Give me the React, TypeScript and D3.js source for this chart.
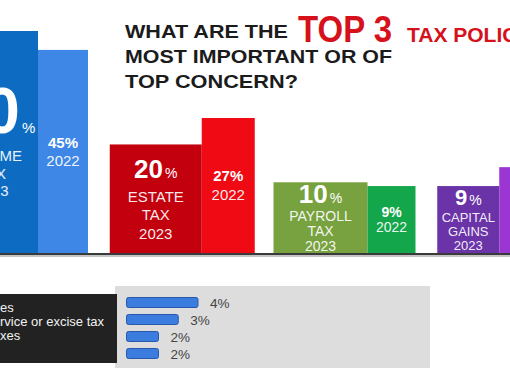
import React from "react";
import * as d3 from "d3";

// ---------- data ----------
const categories = ["INCOME TAX", "ESTATE TAX", "PAYROLL TAX", "CAPITAL GAINS"];
const categoryLines = [
  ["INCOME", "TAX"],
  ["ESTATE", "TAX"],
  ["PAYROLL", "TAX"],
  ["CAPITAL", "GAINS"],
];
const values2023 = [50, 20, 10, 9];
const values2022 = [45, 27, 9, 14];
const year2023 = "2023";
const year2022 = "2022";

const otherLabels = ["es", "rvice or excise tax", "xes", ""];
const otherValues = [4, 3, 2, 2];

// ---------- layout / styles ----------
const W = 510;
const H = 382;
const BASE = 253;
const FONT = "'Liberation Sans', Arial, Helvetica, sans-serif";

const colors2023 = ["#0d6cc2", "#c3000d", "#78a23f", "#6a34a8"];
const colors2022 = ["#3f87e6", "#ef0a14", "#14a64b", "#9b36d2"];
const width2023 = d3.scaleOrdinal<string, number>().domain(categories).range([92, 92, 94, 62]);
const width2022 = d3.scaleOrdinal<string, number>().domain(categories).range([50, 53, 48, 50]);
const bigSize = [64, 26, 26, 22];
const pctSize = [15, 14, 14, 14];
const lineSize = [15, 15, 14, 13];
const gap1 = [28, 24, 18, 17];
const lineH = [17.5, 18.5, 15, 14];
const size22 = [15, 15, 14, 14];
const lineH22 = [18, 19, 15, 15];

export default function App() {
  const xg = d3
    .scaleBand<string>()
    .domain(categories)
    .range([-54, -54 + 4 * 163.75])
    .paddingInner(0)
    .paddingOuter(0);
  const y = d3.scaleLinear().domain([-8.7, 50]).range([BASE, 31]);

  const sx = d3.scaleLinear().domain([0, 4]).range([119, 198]);
  const sy = d3
    .scaleBand<number>()
    .domain(otherValues.map((_, i) => i))
    .range([294, 362])
    .paddingInner(0.41)
    .paddingOuter(0.205);

  const bars = categories.map((c, i) => {
    const x0 = xg(c) as number;
    const w23 = width2023(c);
    const w22 = width2022(c);
    return { c, i, x0, w23, w22, x22: x0 + w23 };
  });

  return (
    <svg
      width={W}
      height={H}
      style={{ position: "absolute", left: 0, top: 0, background: "#fff" }}
      fontFamily={FONT}
    >
      <rect x={0} y={0} width={W} height={H} fill="#fff" />

      {/* Title */}
      <text x={125} y={38} fontSize={19} fontWeight="bold" fill="#1b1b1b" textLength={163} lengthAdjust="spacingAndGlyphs">
        WHAT ARE THE
      </text>
      <text x={298} y={42} fontSize={37} fontWeight="bold" fill="#d5121b" textLength={94} lengthAdjust="spacingAndGlyphs">
        TOP 3
      </text>
      <text x={407} y={42} fontSize={21} fontWeight="bold" fill="#d5121b">
        TAX POLICIES
      </text>
      <text x={125} y={63} fontSize={19} fontWeight="bold" fill="#1b1b1b" textLength={267} lengthAdjust="spacingAndGlyphs">
        MOST IMPORTANT OR OF
      </text>
      <text x={125} y={88} fontSize={19} fontWeight="bold" fill="#1b1b1b" textLength={173} lengthAdjust="spacingAndGlyphs">
        TOP CONCERN?
      </text>

      {/* Bars */}
      {bars.map(({ c, i, x0, w23, w22, x22 }) => {
        const t23 = y(values2023[i]);
        const t22 = y(values2022[i]);
        // 2023 label block, vertically centred in the bar
        const cap = bigSize[i] * 0.716;
        const blockH = cap + gap1[i] + 2 * lineH[i];
        const mid23 = (t23 + BASE) / 2;
        const b0 = mid23 - blockH / 2 + cap;
        const cx23 = x0 + w23 / 2;
        // 2022 label block
        const cap22 = size22[i] * 0.716;
        const blockH22 = cap22 + lineH22[i];
        const mid22 = (t22 + BASE) / 2;
        const b22 = mid22 - blockH22 / 2 + cap22;
        const cx22 = x22 + w22 / 2;
        return (
          <g key={c}>
            <rect x={x0} y={t23} width={w23} height={BASE - t23} fill={colors2023[i]} />
            <rect x={x22} y={t22} width={w22} height={BASE - t22} fill={colors2022[i]} />
            <text x={cx23} y={b0} textAnchor="middle" fill="#fff">
              <tspan fontSize={bigSize[i]} fontWeight="bold">
                {values2023[i]}
              </tspan>
              <tspan fontSize={pctSize[i]} dx={2}>
                %
              </tspan>
            </text>
            {[...categoryLines[i], year2023].map((t, k) => (
              <text
                key={k}
                x={cx23}
                y={b0 + gap1[i] + k * lineH[i]}
                textAnchor="middle"
                fontSize={lineSize[i]}
                fill="#fff"
                fillOpacity={0.93}
              >
                {t}
              </text>
            ))}
            {x22 < W - 20 && (
              <g>
                <text x={cx22} y={b22} textAnchor="middle" fontSize={size22[i]} fontWeight="bold" fill="#fff">
                  {values2022[i]}%
                </text>
                <text x={cx22} y={b22 + lineH22[i]} textAnchor="middle" fontSize={size22[i]} fill="#fff" fillOpacity={0.93}>
                  {year2022}
                </text>
              </g>
            )}
          </g>
        );
      })}

      {/* baseline */}
      <line x1={0} x2={W} y1={256} y2={256} stroke="#c4c4c4" strokeWidth={2} />
      <line x1={0} x2={W} y1={254} y2={254} stroke="#3a3a3a" strokeWidth={2} />

      {/* lower panel */}
      <rect x={115} y={286} width={315} height={82} fill="#dddddd" />
      <rect x={0} y={294} width={117} height={69} fill="#222222" />
      {otherLabels.map((t, i) => (
        <text key={i} x={0} y={312 + i * 14} fontSize={13} fill="#f2f2f2">
          {t}
        </text>
      ))}
      {otherValues.map((v, i) => {
        const by = sy(i) as number;
        const bw = sy.bandwidth();
        return (
          <g key={i}>
            <rect
              x={126.5}
              y={by}
              width={sx(v) - 126.5}
              height={bw}
              rx={2}
              fill="#3b7ddf"
              stroke="#2a58a8"
              strokeWidth={1}
            />
            <text x={sx(v) + 12} y={by + bw / 2 + 5} fontSize={13.5} fill="#444">
              {v}%
            </text>
          </g>
        );
      })}
    </svg>
  );
}
